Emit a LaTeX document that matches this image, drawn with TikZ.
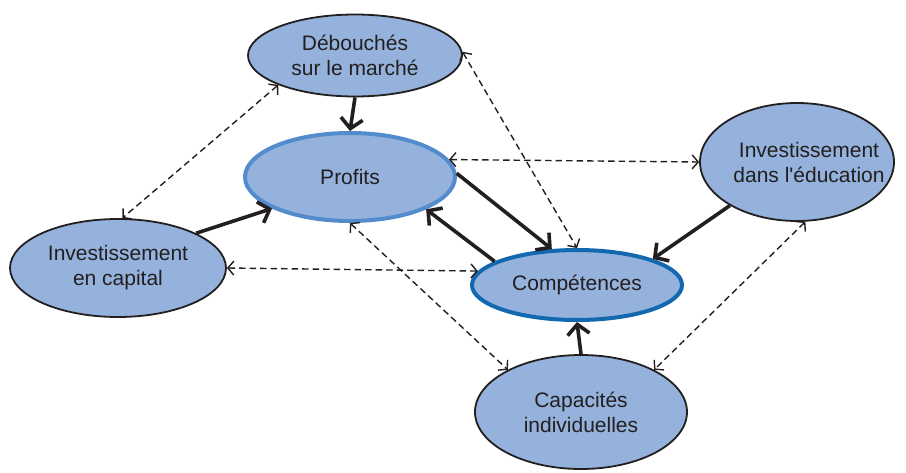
\documentclass[tikz,border=0pt]{standalone}
\usepackage{fontspec}
\setmainfont{Liberation Sans}
\usetikzlibrary{shapes.geometric,arrows.meta}
\definecolor{bubblefill}{RGB}{148,178,220}
\definecolor{inkgray}{RGB}{35,31,32}
\definecolor{ringlight}{RGB}{82,140,204}
\definecolor{ringdark}{RGB}{20,104,176}
\begin{document}
\begin{tikzpicture}[x=1pt,y=-1pt,
  bubble/.style={ellipse, draw=inkgray, line width=1.8pt, fill=bubblefill,
    inner xsep=-60pt, inner ysep=-30pt, align=center, text=inkgray,
    font=\fontsize{21}{25}\selectfont},
  keybubble/.style={bubble, line width=4pt},
  strong/.style={draw=inkgray, line width=3.6pt,
    -{Straight Barb[length=10pt,width=22pt]}},
  link/.style={draw=inkgray, line width=1.4pt, dash pattern=on 6.5pt off 4pt,
    {Straight Barb[length=6pt,width=14pt]}-{Straight Barb[length=6pt,width=14pt]}}
]
\useasboundingbox (0,0) rectangle (906,472);

% factors
\node[bubble, minimum width=214pt, minimum height=82pt] (deb) at (355,55.5) {Débouchés\\sur le marché};
\node[keybubble, draw=ringlight, minimum width=210pt, minimum height=88pt] (prof) at (350,177) {Profits};
\node[keybubble, draw=ringdark, minimum width=210pt, minimum height=70pt] (comp) at (577,285) {Compétences};
\node[bubble, minimum width=216pt, minimum height=98pt] (cap) at (118,268) {Investissement\\en capital};
\node[bubble, minimum width=212pt, minimum height=114pt] (capa) at (581,412) {Capacités\\individuelles};
\node[bubble, minimum width=194pt, minimum height=118pt] (edu) at (797,162) {\hspace*{24pt}Investissement\\\hspace*{24pt}dans l\textquotesingle éducation};

% direct effects
\draw[strong] (deb.south) -- (prof.north);
\draw[strong] (cap.24) -- (prof.202);
\draw[strong] (prof.2) -- (comp.125);
\draw[strong] (comp.164) -- (prof.-23);
\draw[strong] (edu.213) -- (comp.19);
\draw[strong] (capa.north) -- (comp.south);

% mutual influences
\draw[link] (deb.201) -- (cap.85);
\draw[link] (deb.2) -- (comp.north);
\draw[link] (prof.10) -- (edu.west);
\draw[link] (cap.east) -- (comp.172);
\draw[link] (prof.south) -- (capa.150);
\draw[link] (edu.-82) -- (capa.30);
\end{tikzpicture}
\end{document}
